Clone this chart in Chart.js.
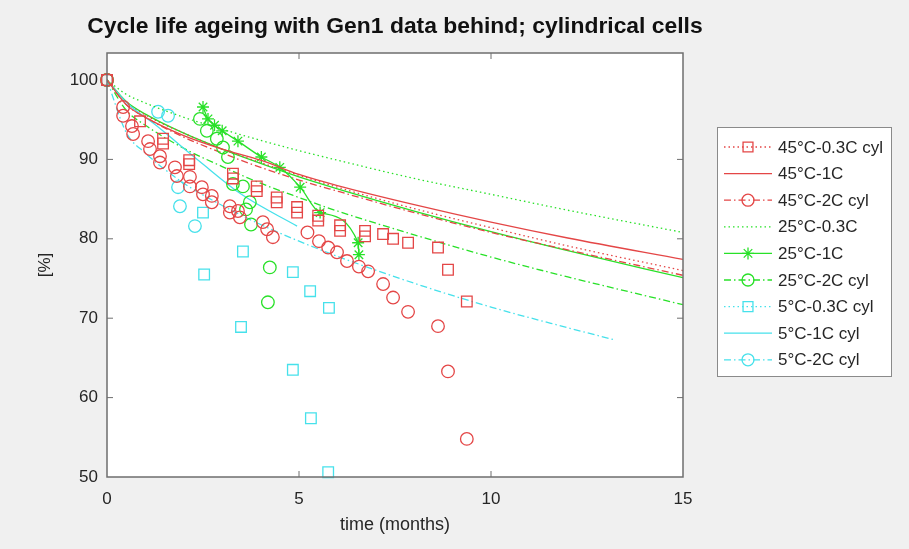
<!DOCTYPE html>
<html>
<head>
<meta charset="utf-8">
<script src="https://cdn.jsdelivr.net/npm/chart.js@4.4.0/dist/chart.umd.min.js"></script>
<style>
html, body { margin: 0; padding: 0; background: #f0f0f0; }
#ageChart { display: block; }
</style>
</head>
<body>
<canvas id="ageChart" width="909" height="549"></canvas>
<script>
// axis ticks
const xTicks = [0, 5, 10, 15];
const yTicks = [50, 60, 70, 80, 90, 100];

// model curves
const tModel = [0, 0.5, 1, 2, 3, 4, 5, 6, 8, 10, 12, 15];
const red1CModel = [100, 96.9, 95.3, 93.0, 91.3, 89.9, 88.1, 86.7, 84.3, 82.1, 80.1, 77.4];
const red03Model = [100, 97.2, 95.6, 93.3, 91.3, 89.6, 88.0, 86.5, 83.8, 81.4, 79.1, 76.0];
const red2CModel = [100, 96.9, 95.3, 92.8, 90.8, 89.0, 87.4, 86.0, 83.3, 80.8, 78.6, 75.4];
const green03Model = [100, 98.2, 97.1, 95.3, 93.8, 92.4, 91.1, 89.9, 87.6, 85.6, 83.6, 80.8];
const green1CModel = [100, 97.3, 95.7, 93.3, 91.3, 89.5, 87.8, 86.3, 83.5, 80.9, 78.5, 75.1];
const green2CModel = [100, 96.2, 94.3, 91.4, 89.1, 87.0, 85.2, 83.5, 80.5, 77.7, 75.2, 71.7];
const tCyanModel = [0, 0.5, 1, 2, 3, 4, 5, 6, 8, 10, 12, 13.2];
const cyan2CModel = [100, 93.4, 90.8, 87.0, 84.2, 81.8, 79.7, 77.8, 74.4, 71.4, 68.8, 67.3];
const tCyan1C = [0, 0.5, 1.3, 2.4, 3.5, 4.95];
const cyan1C = [100, 97.2, 94.2, 89.8, 85.6, 81.6];

// measured cells
const tRed03 = [0, 0.86, 1.46, 1.46, 2.14, 2.14, 3.28, 3.28, 3.9, 3.9, 4.42, 4.42, 4.95, 4.95, 5.5, 5.5, 6.07, 6.07, 6.72, 6.72, 7.19, 7.45, 7.84, 8.62, 8.88, 9.37];
const vRed03 = [100, 94.8, 92.6, 92.0, 89.9, 89.4, 88.2, 87.6, 86.6, 86.0, 85.2, 84.6, 84.0, 83.3, 82.9, 82.3, 81.7, 81.0, 81.0, 80.3, 80.6, 80.0, 79.5, 78.9, 76.1, 72.1];
const tRed2C = [0, 0.42, 0.42, 0.65, 0.68, 1.07, 1.12, 1.38, 1.38, 1.77, 1.82, 2.16, 2.16, 2.47, 2.5, 2.73, 2.73, 3.2, 3.2, 3.41, 3.46, 4.06, 4.17, 4.32, 5.22, 5.52, 5.76, 5.99, 6.25, 6.56, 6.8, 7.19, 7.45, 7.84, 8.62, 8.88, 9.37];
const vRed2C = [100, 96.6, 95.5, 94.2, 93.2, 92.3, 91.3, 90.4, 89.6, 89.0, 87.9, 87.8, 86.6, 86.5, 85.6, 85.4, 84.6, 84.1, 83.3, 83.5, 82.7, 82.1, 81.2, 80.2, 80.8, 79.7, 78.9, 78.3, 77.2, 76.5, 75.9, 74.3, 72.6, 70.8, 69.0, 63.3, 54.8];
const tGreen1C = [2.5, 2.63, 2.8, 3.0, 3.41, 4.02, 4.5, 5.03, 5.55, 6.54, 6.56];
const vGreen1C = [96.6, 95.1, 94.3, 93.6, 92.3, 90.3, 89.0, 86.5, 83.3, 79.5, 78.0];
const tGreen2C = [0, 2.42, 2.6, 2.86, 3.02, 3.15, 3.28, 3.54, 3.72, 3.62, 3.75, 4.24, 4.19];
const vGreen2C = [100, 95.1, 93.6, 92.6, 91.5, 90.3, 86.9, 86.6, 84.6, 83.7, 81.8, 76.4, 72.0];
const tCyan03 = [0, 2.5, 2.53, 3.54, 3.49, 4.84, 4.84, 5.29, 5.31, 5.78, 5.76];
const vCyan03 = [100, 83.3, 75.5, 78.4, 68.9, 75.8, 63.5, 73.4, 57.4, 71.3, 50.6];
const tCyan2C = [0, 1.33, 1.59, 1.85, 1.9, 2.29];
const vCyan2C = [100, 96.0, 95.5, 86.5, 84.1, 81.6];

const legendLabels = ['45°C-0.3C cyl', '45°C-1C', '45°C-2C cyl', '25°C-0.3C', '25°C-1C',
    '25°C-2C cyl', '5°C-0.3C cyl', '5°C-1C cyl', '5°C-2C cyl'];

const RED = 'rgb(228, 70, 70)';
const GREEN = 'rgb(40, 225, 40)';
const CYAN = 'rgb(70, 225, 235)';
const DOT = [1.5, 3];
const DASHDOT = [7, 3, 1.5, 3];

const pts = (xs, ys) => xs.map((x, i) => ({ x: x, y: ys[i] }));

function lineSet(xs, ys, color, dash) {
    return { data: pts(xs, ys), showLine: true, borderColor: color, borderWidth: 1.3,
        borderDash: dash, pointRadius: 0, fill: false, tension: 0.4, cubicInterpolationMode: 'monotone' };
}
function markSet(xs, ys, color, style, r) {
    return { data: pts(xs, ys), showLine: false, borderColor: color, backgroundColor: 'rgba(0,0,0,0)',
        pointStyle: style, pointRadius: r, pointBorderWidth: 1.3, pointBorderColor: color,
        pointBackgroundColor: 'rgba(0,0,0,0)', clip: false };
}

// legend samples: line style + marker for each entry
const legendStyles = [
    { color: RED, dash: DOT, marker: 'rect' },
    { color: RED, dash: [], marker: null },
    { color: RED, dash: DASHDOT, marker: 'circle' },
    { color: GREEN, dash: DOT, marker: null },
    { color: GREEN, dash: [], marker: 'star' },
    { color: GREEN, dash: DASHDOT, marker: 'circle' },
    { color: CYAN, dash: DOT, marker: 'rect' },
    { color: CYAN, dash: [], marker: null },
    { color: CYAN, dash: DASHDOT, marker: 'circle' }
];

const datasets = [
    markSet(tRed03, vRed03, RED, 'rect', 7.5),
    lineSet(tModel, red1CModel, RED, []),
    markSet(tRed2C, vRed2C, RED, 'circle', 6.3),
    lineSet(tModel, green03Model, GREEN, DOT),
    Object.assign(lineSet(tGreen1C, vGreen1C, GREEN, []), { pointStyle: 'star', pointRadius: 6, tension: 0,
        pointBorderColor: GREEN, pointBorderWidth: 1.3 }),
    markSet(tGreen2C, vGreen2C, GREEN, 'circle', 6.3),
    markSet(tCyan03, vCyan03, CYAN, 'rect', 7.5),
    lineSet(tCyan1C, cyan1C, CYAN, []),
    markSet(tCyan2C, vCyan2C, CYAN, 'circle', 6.3),
    lineSet(tModel, red03Model, RED, DOT),
    lineSet(tModel, red2CModel, RED, DASHDOT),
    lineSet(tModel, green1CModel, GREEN, []),
    lineSet(tModel, green2CModel, GREEN, DASHDOT),
    lineSet(tCyanModel, cyan2CModel, CYAN, DASHDOT)
];
datasets.forEach((d, i) => { d.label = legendLabels[i] || ''; });

const FONT = '"Liberation Sans", Arial, Helvetica, sans-serif';

const figurePlugin = {
    id: 'figure',
    beforeDraw(chart) {
        const { ctx, chartArea: a } = chart;
        ctx.save();
        ctx.fillStyle = '#f0f0f0';
        ctx.fillRect(0, 0, chart.width, chart.height);
        ctx.fillStyle = '#ffffff';
        ctx.fillRect(a.left, a.top, a.right - a.left, a.bottom - a.top);
        ctx.restore();
    },
    afterDraw(chart) {
        const { ctx, chartArea: a, scales } = chart;
        ctx.save();
        // axes box and inward ticks
        ctx.strokeStyle = '#6e6e6e';
        ctx.lineWidth = 1.5;
        ctx.strokeRect(a.left, a.top, a.right - a.left, a.bottom - a.top);
        ctx.lineWidth = 1;
        ctx.beginPath();
        xTicks.slice(1, -1).forEach(v => {
            const px = scales.x.getPixelForValue(v);
            ctx.moveTo(px, a.bottom); ctx.lineTo(px, a.bottom - 6);
            ctx.moveTo(px, a.top); ctx.lineTo(px, a.top + 6);
        });
        yTicks.slice(1, -1).forEach(v => {
            const py = scales.y.getPixelForValue(v);
            ctx.moveTo(a.left, py); ctx.lineTo(a.left + 6, py);
            ctx.moveTo(a.right, py); ctx.lineTo(a.right - 6, py);
        });
        ctx.stroke();

        // title (slightly condensed, like the MATLAB figure font)
        ctx.save();
        ctx.fillStyle = '#111';
        ctx.font = 'bold 22px ' + FONT;
        ctx.textAlign = 'center';
        ctx.textBaseline = 'middle';
        ctx.translate((a.left + a.right) / 2, 27);
        ctx.scale(1.04, 1);
        ctx.fillText('Cycle life ageing with Gen1 data behind; cylindrical cells', 0, 0);
        ctx.restore();

        // legend
        const lx = 717, ly = 127, lw = 174, lh = 249, row = 26.6;
        ctx.fillStyle = '#ffffff';
        ctx.fillRect(lx, ly, lw, lh);
        ctx.strokeStyle = '#8a8a8a';
        ctx.lineWidth = 1;
        ctx.strokeRect(lx + 0.5, ly + 0.5, lw, lh);
        ctx.font = '17px ' + FONT;
        ctx.textAlign = 'left';
        ctx.textBaseline = 'middle';
        legendLabels.forEach((lab, i) => {
            const st = legendStyles[i];
            const cy = ly + 20 + i * row;
            ctx.strokeStyle = st.color;
            ctx.lineWidth = 1.3;
            ctx.setLineDash(st.dash);
            ctx.beginPath();
            ctx.moveTo(lx + 7, cy); ctx.lineTo(lx + 55, cy);
            ctx.stroke();
            ctx.setLineDash([]);
            if (st.marker) {
                ctx.fillStyle = 'rgba(0,0,0,0)';
                ctx.strokeStyle = st.color;
                Chart.helpers.drawPoint(ctx, { pointStyle: st.marker, radius: st.marker === 'rect' ? 7 : 6,
                    borderWidth: 1.3 }, lx + 31, cy);
            }
            ctx.fillStyle = '#262626';
            ctx.fillText(lab, lx + 61, cy + 1);
        });
        ctx.restore();
    }
};

const ctx = document.getElementById('ageChart').getContext('2d');
const ageChart = new Chart(ctx, {
    type: 'scatter',
    data: { datasets: datasets },
    plugins: [figurePlugin],
    options: {
        responsive: false,
        animation: false,
        devicePixelRatio: 1,
        layout: { padding: { top: 53, right: 226, left: 0, bottom: 0 } },
        plugins: { legend: { display: false }, tooltip: { enabled: false } },
        scales: {
            x: {
                type: 'linear', min: 0, max: 15,
                afterBuildTicks: s => { s.ticks = xTicks.map(v => ({ value: v })); },
                afterFit: s => { s.height = 72; },
                grid: { display: false, drawTicks: false },
                border: { display: false },
                ticks: { color: '#262626', font: { family: FONT, size: 17 }, padding: 12, maxRotation: 0 },
                title: { display: true, text: 'time (months)', color: '#262626',
                    font: { family: FONT, size: 18 }, padding: { top: 0, bottom: 13 } }
            },
            y: {
                type: 'linear', min: 50, max: 103.4,
                afterBuildTicks: s => { s.ticks = yTicks.map(v => ({ value: v })); },
                afterFit: s => { s.width = 107; },
                grid: { display: false, drawTicks: false },
                border: { display: false },
                ticks: { color: '#262626', font: { family: FONT, size: 17 }, padding: 9 },
                title: { display: true, text: '[%]', color: '#262626',
                    font: { family: FONT, size: 17 }, padding: { top: 35, bottom: 0 } }
            }
        }
    }
});
</script>
</body>
</html>
